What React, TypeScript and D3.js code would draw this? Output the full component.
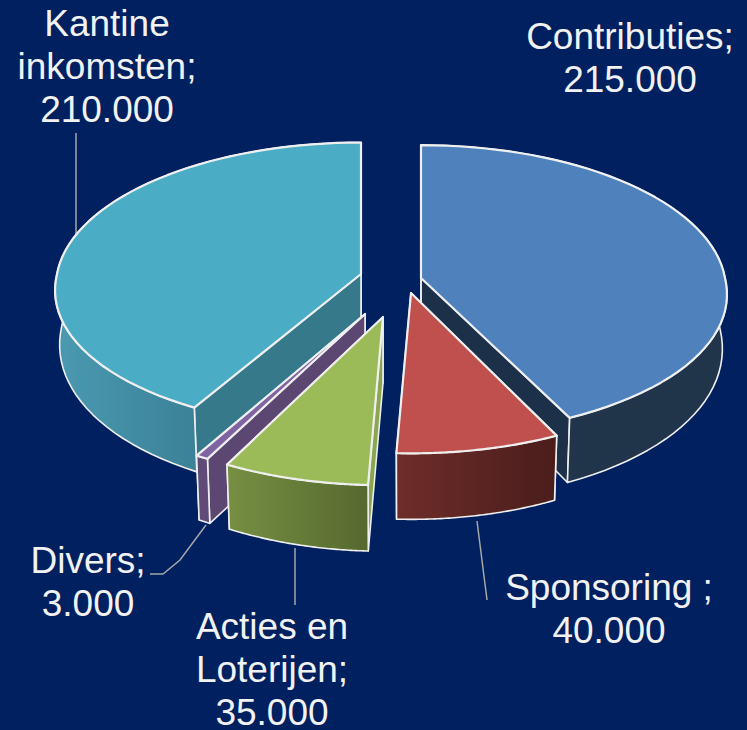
import React from "react";
import * as d3 from "d3";

const categories = ["Contributies", "Sponsoring", "Acties en Loterijen", "Divers", "Kantine inkomsten"];
const values = [215000, 40000, 35000, 3000, 210000];
const labelLines = [["Contributies;"], ["Sponsoring ;"], ["Acties en", "Loterijen;"], ["Divers;"], ["Kantine", "inkomsten;"]];
const topColors = ["#4F81BD", "#C0504D", "#9BBB59", "#8064A2", "#4BACC6"];
const wallFrom = ["#22354C", "#6E2D2A", "#768F42", "#5F4A78", "#4A9AB2"];
const wallTo = ["#20344A", "#4A1D1B", "#55692F", "#5F4A78", "#3B8096"];
const sideColors = ["#1C3049", "#4A1D1B", "#8BA650", "#5C4672", "#35798B"];

// layout of every exploded slice: apex, per-slice scale, apex depth, paint order
const apexX = [421, 411, 383, 365, 361];
const apexY = [278, 293, 317, 314, 274];
const scaleX = [1, 0.98, 1.0, 1.01, 1];
const scaleY = [1, 1.02, 1.07, 1.05, 0.99];
const apexDepth = [56, 56, 66, 66, 50];
const paintOrder = [4, 0, 3, 2, 1];
const labelX = [630, 609, 272, 88, 107];
const labelY = [49, 600, 639, 573, 36];
const leaderX = [[], [477, 487], [295, 295], [206, 180, 163, 150], [76, 76]];
const leaderY = [[], [521, 600], [548, 605], [525, 560, 574, 574], [237, 133]];

const W = 747, H = 730, R = 304, A = 144, P = 0.084;
const nl = d3.formatLocale({ decimal: ",", thousands: ".", grouping: [3], currency: ["€", ""] }).format(",d");
const arcs = d3.pie<number>().sort(null).startAngle(0).endAngle(2 * Math.PI)(values);

function top(i: number, t: number): [number, number] {
  const u = Math.sin(t), v = -Math.cos(t), s = 1 / (1 - P * v);
  const front = 1 + 0.03 * Math.max(v, 0);
  return [apexX[i] + R * u * s * scaleX[i] * front, apexY[i] + A * v * s * scaleY[i]];
}
function bottom(i: number, t: number): [number, number] {
  const [x, y] = top(i, t), v = -Math.cos(t);
  return [apexX[i] + (x - apexX[i]) * 0.985, y + 53 + 13 * v];
}
function samples(a: number, b: number) {
  return d3.range(0, 61).map((k) => a + ((b - a) * k) / 60);
}
const line = d3.line<[number, number]>();

export default function App() {
  return (
    <svg width={W} height={H} style={{ position: "fixed", left: 0, top: 0, background: "#002060" }} fontFamily="'Liberation Sans', Arial, sans-serif">
      <defs>
        {values.map((_, i) => {
          const xs = samples(arcs[i].startAngle, arcs[i].endAngle).map((t) => top(i, t)[0]);
          const ext = d3.extent(xs) as [number, number];
          const hi = i === 4 ? apexX[i] - 160 : ext[1];
          return (
            <linearGradient key={i} id={`wall${i}`} gradientUnits="userSpaceOnUse" x1={ext[0]} x2={hi} y1={0} y2={0}>
              <stop offset="0" stopColor={wallFrom[i]} />
              <stop offset="1" stopColor={wallTo[i]} />
            </linearGradient>
          );
        })}
      </defs>
      <rect width={W} height={H} fill="#002060" />
      {leaderX.map((xs, i) => xs.length > 0 && (
        <path key={i} fill="none" stroke="#A6A6A6" strokeWidth={1.5}
          d={line(xs.map((x, k) => [x, leaderY[i][k]] as [number, number])) as string} />
      ))}
      {paintOrder.map((i) => {
        const { startAngle: a, endAngle: b } = arcs[i];
        const apexT: [number, number] = [apexX[i], apexY[i]];
        const apexB: [number, number] = [apexX[i], apexY[i] + apexDepth[i]];
        const rim = samples(a, b).map((t) => top(i, t));
        const rimB = samples(a, b).map((t) => bottom(i, t));
        const wallA = [apexT, top(i, a), bottom(i, a), apexB] as [number, number][];
        const wallB = [apexT, top(i, b), bottom(i, b), apexB] as [number, number][];
        return (
          <g key={categories[i]} stroke="#EFEFEF" strokeLinejoin="round">
            <path d={line(wallB) + "Z"} fill={sideColors[i]} strokeWidth={1.6} />
            <path d={line(wallA) + "Z"} fill={sideColors[i]} strokeWidth={1.6} />
            <path d={line([...rim, ...rimB.slice().reverse()]) + "Z"} fill={`url(#wall${i})`} strokeWidth={1.6} />
            <path d={line([apexT, ...rim]) + "Z"} fill={topColors[i]} strokeWidth={2.2} />
          </g>
        );
      })}
      {labelLines.map((lines, i) => {
        const all = [...lines, nl(values[i])];
        return (
          <text key={i} x={labelX[i]} y={labelY[i]} fill="#F2F2F2" fontSize={37} textAnchor="middle">
            {all.map((s, k) => (
              <tspan key={k} x={labelX[i]} dy={k === 0 ? 0 : 43}>{s}</tspan>
            ))}
          </text>
        );
      })}
    </svg>
  );
}
